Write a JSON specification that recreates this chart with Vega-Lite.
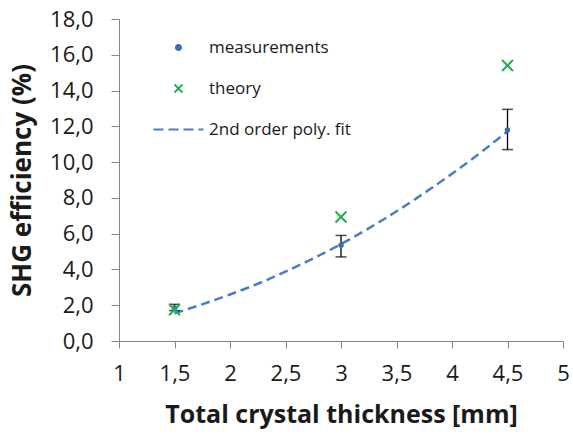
{
  "$schema": "https://vega.github.io/schema/vega-lite/v6.json",
  "width": 444,
  "height": 322,
  "autosize": "none",
  "padding": {"left": 119, "top": 19, "right": 10, "bottom": 94},
  "background": "white",
  "config": {
    "view": {"stroke": null},
    "font": "Open Sans",
    "axis": {
      "grid": false,
      "domainColor": "#868686",
      "tickColor": "#868686",
      "domainWidth": 1,
      "tickWidth": 1,
      "labelColor": "#1a1a1a",
      "titleColor": "#1a1a1a",
      "labelFont": "Open Sans",
      "titleFont": "Open Sans",
      "labelFontSize": 22,
      "titleFontWeight": "bold"
    }
  },
  "datasets": {
    "meas": [
      {"series": "measurements", "x": 1.5, "y": 1.85, "lo": 1.7, "hi": 2.05},
      {"series": "measurements", "x": 3.0, "y": 5.35, "lo": 4.7, "hi": 5.9},
      {"series": "measurements", "x": 4.5, "y": 11.8, "lo": 10.7, "hi": 12.95}
    ],
    "theory": [
      {"series": "theory", "x": 1.5, "y": 1.75},
      {"series": "theory", "x": 3.0, "y": 6.93},
      {"series": "theory", "x": 4.5, "y": 15.4}
    ],
    "fit": [
      {"series": "2nd order poly. fit", "x": 1.5, "y": 1.55},
      {"series": "2nd order poly. fit", "x": 1.75, "y": 2.05},
      {"series": "2nd order poly. fit", "x": 2.0, "y": 2.6},
      {"series": "2nd order poly. fit", "x": 2.25, "y": 3.2},
      {"series": "2nd order poly. fit", "x": 2.5, "y": 3.88},
      {"series": "2nd order poly. fit", "x": 2.75, "y": 4.62},
      {"series": "2nd order poly. fit", "x": 3.0, "y": 5.42},
      {"series": "2nd order poly. fit", "x": 3.25, "y": 6.3},
      {"series": "2nd order poly. fit", "x": 3.5, "y": 7.25},
      {"series": "2nd order poly. fit", "x": 3.75, "y": 8.27},
      {"series": "2nd order poly. fit", "x": 4.0, "y": 9.35},
      {"series": "2nd order poly. fit", "x": 4.25, "y": 10.5},
      {"series": "2nd order poly. fit", "x": 4.5, "y": 11.72}
    ]
  },
  "encoding": {
    "x": {
      "field": "x", "type": "quantitative",
      "scale": {"domain": [1, 5], "nice": false, "zero": false},
      "axis": {
        "title": "Total crystal thickness [mm]",
        "titleFontSize": 25,
        "values": [1, 1.5, 2, 2.5, 3, 3.5, 4, 4.5, 5],
        "labelExpr": "replace(format(datum.value, '~g'), '.', ',')",
        "tickSize": 7,
        "labelPadding": 15,
        "titlePadding": 18,
        "labelFlush": false,
        "labelOverlap": false
      }
    },
    "y": {
      "field": "y", "type": "quantitative",
      "scale": {"domain": [0, 18], "nice": false, "zero": true},
      "axis": {
        "title": "SHG efficiency (%)",
        "titleFontSize": 26,
        "values": [0, 2, 4, 6, 8, 10, 12, 14, 16, 18],
        "labelExpr": "replace(format(datum.value, '.1f'), '.', ',')",
        "tickSize": 8,
        "labelPadding": 18,
        "titlePadding": 14,
        "labelFlush": false,
        "labelOverlap": false
      }
    }
  },
  "layer": [
    {
      "data": {"name": "fit"},
      "mark": {"type": "line", "strokeDash": [9, 5], "strokeWidth": 2.5, "interpolate": "monotone"},
      "encoding": {
        "color": {
          "field": "series", "type": "nominal",
          "scale": {
            "domain": ["measurements", "theory", "2nd order poly. fit"],
            "range": ["#3B6DB3", "#1CB050", "#4A7EC4"]
          },
          "legend": {
            "title": null,
            "orient": "none",
            "legendX": 51,
            "legendY": 20,
            "padding": 0,
            "labelFont": "Open Sans",
            "labelFontSize": 17,
            "labelColor": "#1a1a1a",
            "labelOffset": 22,
            "symbolSize": 100,
            "rowPadding": 23,
            "symbolStrokeWidth": 2,
            "encode": {
              "symbols": {
                "update": {
                  "fill": {"signal": "datum.value === 'measurements' ? '#3B6DB3' : 'transparent'"},
                  "stroke": {"signal": "datum.value === 'measurements' ? 'transparent' : (datum.value === 'theory' ? '#1CB050' : '#4A7EC4')"},
                  "strokeDash": {"signal": "datum.value === '2nd order poly. fit' ? [10, 5] : [1, 0]"},
                  "size": {"signal": "datum.value === 'measurements' ? 25 : (datum.value === 'theory' ? 64 : 100)"},
                  "opacity": {"value": 1}
                }
              }
            }
          }
        },
        "shape": {
          "field": "series", "type": "nominal",
          "scale": {
            "domain": ["measurements", "theory", "2nd order poly. fit"],
            "range": ["circle", "M-1,-1L1,1M-1,1L1,-1", "M-5,0L5,0"]
          }
        }
      }
    },
    {
      "data": {"name": "meas"},
      "mark": {"type": "rule", "color": "#000000", "strokeWidth": 1.3},
      "encoding": {
        "y": {"field": "lo", "type": "quantitative"},
        "y2": {"field": "hi"}
      }
    },
    {
      "data": {"name": "meas"},
      "mark": {"type": "tick", "orient": "horizontal", "color": "#000000", "size": 11, "thickness": 1.5},
      "encoding": {
        "y": {"field": "lo", "type": "quantitative"}
      }
    },
    {
      "data": {"name": "meas"},
      "mark": {"type": "tick", "orient": "horizontal", "color": "#000000", "size": 11, "thickness": 1.5},
      "encoding": {
        "y": {"field": "hi", "type": "quantitative"}
      }
    },
    {
      "data": {"name": "meas"},
      "mark": {"type": "point", "filled": true, "size": 30, "opacity": 1},
      "encoding": {
        "color": {"field": "series", "type": "nominal"},
        "shape": {"field": "series", "type": "nominal"}
      }
    },
    {
      "data": {"name": "theory"},
      "mark": {"type": "point", "filled": false, "size": 120, "strokeWidth": 2, "opacity": 1},
      "encoding": {
        "color": {"field": "series", "type": "nominal"},
        "shape": {"field": "series", "type": "nominal"}
      }
    }
  ]
}
